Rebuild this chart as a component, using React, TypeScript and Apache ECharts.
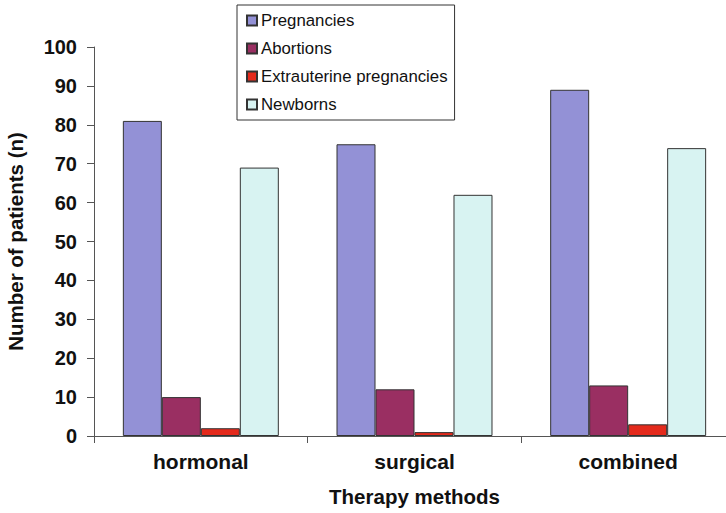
import React, { useEffect, useRef } from "react";
import * as echarts from "echarts";

const categories = ["hormonal", "surgical", "combined"];
const pregnancies = [81, 75, 89];
const abortions = [10, 12, 13];
const extrauterine = [2, 1, 3];
const newborns = [69, 62, 74];

const seriesNames = ["Pregnancies", "Abortions", "Extrauterine pregnancies", "Newborns"];
const seriesColors = ["#9391d6", "#9a2f62", "#e42a1c", "#d8f3f2"];
const yTicks = { min: 0, max: 100, interval: 10 };

const FONT = "'Liberation Sans', Arial, sans-serif";
const labelStyle = { fontFamily: FONT, fontSize: 20.5, fontWeight: "bold", color: "#111" };

export default function App() {
  const ref = useRef<HTMLDivElement>(null);

  useEffect(() => {
    if (!ref.current) return;
    const chart = echarts.init(ref.current, null, { renderer: "svg" });
    const values = [pregnancies, abortions, extrauterine, newborns];

    chart.setOption({
      animation: false,
      backgroundColor: "#ffffff",
      textStyle: { fontFamily: FONT },
      legend: {
        orient: "vertical",
        left: 237,
        top: 5,
        padding: [7, 7, 7, 9],
        itemWidth: 10,
        itemHeight: 10,
        itemGap: 11,
        icon: "rect",
        borderColor: "#333",
        borderWidth: 1,
        backgroundColor: "#fff",
        textStyle: { fontFamily: FONT, fontSize: 16.8, color: "#111", padding: [0, 0, 0, -1] },
        data: seriesNames,
      },
      // the plot runs past the right edge, so the axis line reaches the border
      grid: { left: 94, top: 47, height: 389, width: 641, outerBoundsMode: "none", containLabel: false },
      xAxis: {
        type: "category",
        data: categories,
        boundaryGap: true,
        axisLine: { lineStyle: { color: "#555", width: 1 } },
        axisTick: { show: true, length: 7, lineStyle: { color: "#555" } },
        axisLabel: { ...labelStyle, fontSize: 21, margin: 15 },
        name: "Therapy methods",
        nameLocation: "middle",
        nameGap: 50,
        nameTextStyle: labelStyle,
      },
      yAxis: {
        type: "value",
        min: yTicks.min,
        max: yTicks.max,
        interval: yTicks.interval,
        splitLine: { show: false },
        axisLine: { show: true, lineStyle: { color: "#555", width: 1 } },
        axisTick: { show: true, length: 7, lineStyle: { color: "#555" } },
        axisLabel: { ...labelStyle, fontSize: 20, margin: 17 },
        name: "Number of patients (n)",
        nameLocation: "middle",
        nameRotate: 90,
        nameGap: 68,
        nameTextStyle: labelStyle,
      },
      series: seriesNames.map((name, i) => ({
        name,
        type: "bar",
        data: values[i],
        barGap: "0%",
        barCategoryGap: "27%",
        itemStyle: { color: seriesColors[i], borderColor: "#333", borderWidth: 1 },
      })),
    });

    return () => chart.dispose();
  }, []);

  return (
    <div
      ref={ref}
      style={{ position: "fixed", left: 0, top: 0, width: 726, height: 513 }}
    />
  );
}
